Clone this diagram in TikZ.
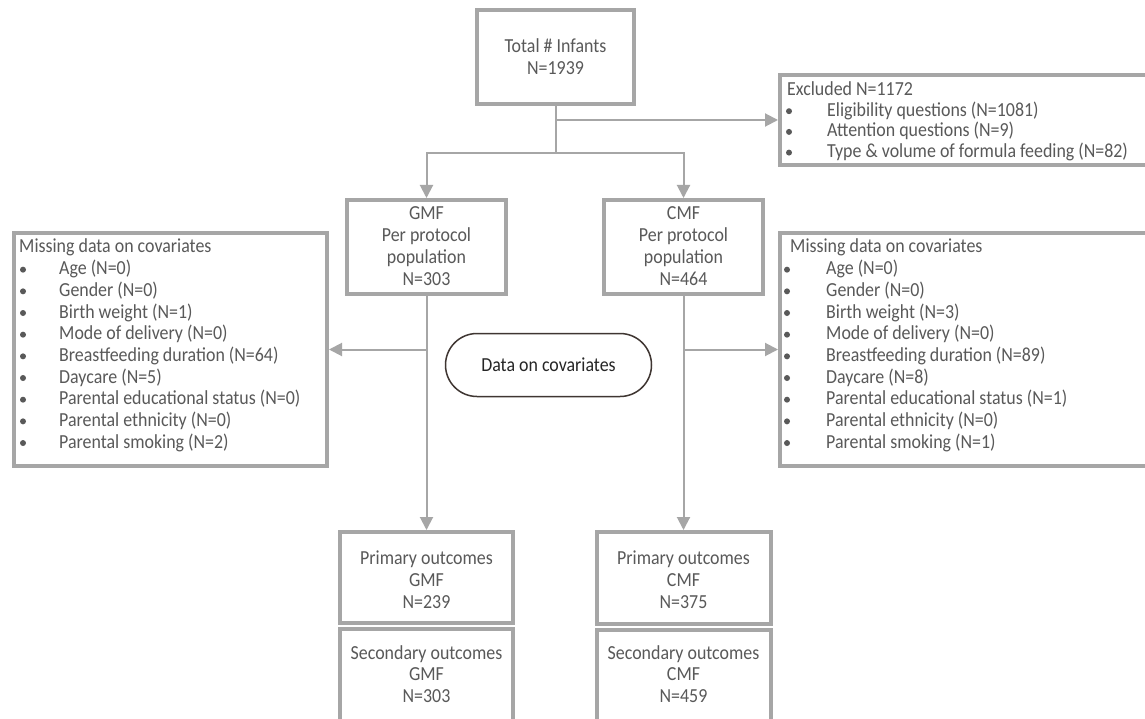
\documentclass[tikz,border=0pt]{standalone}
\usepackage{fontspec}
\setmainfont[FakeStretch=0.9]{Carlito}
\usetikzlibrary{arrows.meta,shapes.misc}
\definecolor{linegray}{HTML}{A6A6A6}
\definecolor{txtgray}{HTML}{595959}
\definecolor{ovalbrd}{HTML}{3F3632}
\definecolor{ovaltxt}{HTML}{262626}
\tikzset{
  box/.style={draw=linegray, line width=4pt, inner sep=0pt},
  conn/.style={draw=linegray, line width=2pt},
  arr/.style={conn, -{Triangle[length=13pt,width=13pt]}},
  lbl/.style={text=txtgray, font=\fontsize{19.9}{21.8}\selectfont, inner sep=0pt, align=center},
  rowtxt/.style={text=txtgray, font=\fontsize{19.9}{21.8}\selectfont, inner sep=0pt, anchor=base west},
  bul/.style={circle, fill=txtgray, minimum size=6pt, inner sep=0pt},
  oval/.style={rounded rectangle, draw=ovalbrd, line width=1.5pt, text=ovaltxt,
    font=\fontsize{19.9}{21.8}\selectfont, inner sep=0pt},
}
\begin{document}
\begin{tikzpicture}[x=1pt,y=-1pt]
\useasboundingbox (0,0) rectangle (1145,719);
\fill[white] (0,0) rectangle (1145,719);
\clip (0,0) rectangle (1145,719);

% boxes
\node[box, minimum width=157, minimum height=94] (tot) at (555.5,57) {};
\node[box, minimum width=380, minimum height=90] (excl) at (970,120) {};
\node[box, minimum width=159, minimum height=94] (gmf) at (426.5,247) {};
\node[box, minimum width=159, minimum height=94] (cmf) at (683.5,247) {};
\node[box, minimum width=313, minimum height=233] (lbox) at (170.5,349.5) {};
\node[box, minimum width=380, minimum height=233] (rbox) at (970,349.5) {};
\node[box, minimum width=173, minimum height=91] (pg) at (426.5,577.5) {};
\node[box, minimum width=173, minimum height=111] (sg) at (426.5,684.5) {};
\node[box, minimum width=174, minimum height=92] (pc) at (683.5,578) {};
\node[box, minimum width=174, minimum height=110] (sc) at (683.5,685) {};
\node[oval, minimum width=206, minimum height=63] (cov) at (548.5,365) {Data on covariates};

% box texts
\node[lbl] (totT) at (555.5,57) {Total \# Infants\\N=1939};
\node[lbl] (gmfT) at (426.5,246) {GMF\\Per protocol\\population\\N=303};
\node[lbl] (cmfT) at (683.5,246) {CMF\\Per protocol\\population\\N=464};
\node[lbl] (pgT) at (426.5,580) {Primary outcomes\\GMF\\N=239};
\node[lbl] (sgT) at (426.5,674) {Secondary outcomes\\GMF\\N=303};
\node[lbl] (pcT) at (683.5,580) {Primary outcomes\\CMF\\N=375};
\node[lbl] (scT) at (683.5,674) {Secondary outcomes\\CMF\\N=459};

% excluded list
\node[rowtxt] (exH) at (787,95.5) {Excluded N=1172};
\foreach \t [count=\i] in {Eligibility questions (N=1081), Attention questions (N=9), Type \& volume of formula feeding (N=82)} {
  \node[rowtxt] (ex\i) at (827,{95.5+20.7*\i}) {\t};
  \node[bul] (exb\i) at (789,{95.5+20.7*\i-5}) {};
}

% left list
\node[rowtxt] (lH) at (19,253) {Missing data on covariates};
\foreach \t [count=\i] in {Age (N=0), Gender (N=0), Birth weight (N=1), Mode of delivery (N=0), Breastfeeding duration (N=64), Daycare (N=5), Parental educational status (N=0), Parental ethnicity (N=0), Parental smoking (N=2)} {
  \node[rowtxt] (l\i) at (59,{253+21.67*\i}) {\t};
  \node[bul] (lb\i) at (23,{253+21.67*\i-5}) {};
}

% right list
\node[rowtxt] (rH) at (790,253) {Missing data on covariates};
\foreach \t [count=\i] in {Age (N=0), Gender (N=0), Birth weight (N=3), Mode of delivery (N=0), Breastfeeding duration (N=89), Daycare (N=8), Parental educational status (N=1), Parental ethnicity (N=0), Parental smoking (N=1)} {
  \node[rowtxt] (r\i) at (826,{253+21.67*\i}) {\t};
  \node[bul] (rb\i) at (787,{253+21.67*\i-5}) {};
}

% junctions
\coordinate (jA) at (555.5,120);
\coordinate (jB) at (555.5,153);
\coordinate (bL) at (426.5,349.5);
\coordinate (bR) at (683.5,349.5);

% connectors
\draw[conn] (tot.south) -- (jB);
\draw[arr] (jA) -- (excl.west);
\draw[arr] (jB) -| (gmf.north);
\draw[arr] (jB) -| (cmf.north);
\draw[arr] (gmf.south) -- (pg.north);
\draw[arr] (cmf.south) -- (pc.north);
\draw[arr] (bL) -- (lbox.east);
\draw[arr] (bR) -- (rbox.west);
\end{tikzpicture}
\end{document}
